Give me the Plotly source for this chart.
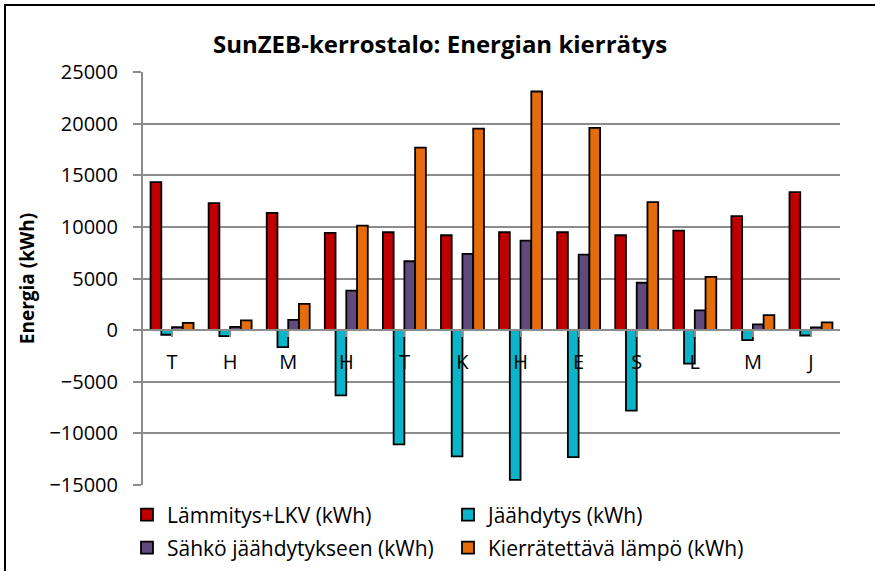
import plotly.graph_objects as go

months = ["T", "H", "M", "H", "T", "K", "H", "E", "S", "L", "M", "J"]
lammitys = [14340, 12300, 11360, 9420, 9480, 9190, 9480, 9480, 9190, 9640, 11040, 13370]
jaahdytys = [-450, -580, -1650, -6310, -11070, -12230, -14500, -12300, -7800, -3240, -970, -520]
sahko = [290, 320, 1000, 3820, 6670, 7380, 8670, 7310, 4590, 1910, 550, 260]
kierratys = [710, 940, 2550, 10130, 17670, 19510, 23110, 19580, 12400, 5150, 1460, 750]

series = [
    ("Lämmitys+LKV (kWh)", lammitys, "#C00000", "legend"),
    ("Jäähdytys (kWh)", jaahdytys, "#0BB4C8", "legend"),
    ("Sähkö jäähdytykseen (kWh)", sahko, "#604A7B", "legend2"),
    ("Kierrätettävä lämpö (kWh)", kierratys, "#E46C0A", "legend2"),
]

x_idx = list(range(len(months)))
FONT = "Open Sans"

fig = go.Figure()
for name, vals, col, lg in series:
    fig.add_trace(go.Bar(
        x=x_idx, y=vals, name=name, legend=lg,
        marker=dict(color=col, line=dict(color="black", width=1.8)),
    ))

L, R, T, B = 143, 35, 72, 86
W, H = 875, 571
pw = W - L - R
ph = H - T - B
zero_pos = (0 - (-15000)) / 40000.0

leg_common = dict(orientation="h", xref="container", yref="container",
                  x=127 / W, xanchor="left", yanchor="middle",
                  entrywidth=276, entrywidthmode="pixels",
                  font=dict(family=FONT, size=21, color="black"),
                  traceorder="normal", bgcolor="rgba(0,0,0,0)")

fig.update_layout(
    width=W, height=H,
    margin=dict(l=L, r=R, t=T, b=B, autoexpand=False),
    paper_bgcolor="white", plot_bgcolor="white",
    barmode="group", bargap=0.26, bargroupgap=0,
    font=dict(family=FONT, size=20, color="black"),
    title=dict(text="<b>SunZEB-kerrostalo: Energian kierrätys</b>",
               x=(440 - L) / pw, xref="paper", xanchor="center",
               y=1 - 45 / H, yanchor="middle",
               font=dict(family=FONT, size=24, color="black")),
    showlegend=True,
    legend=dict(leg_common, y=1 - 515 / H),
    legend2=dict(leg_common, y=1 - 548 / H),
    xaxis=dict(
        tickmode="array", tickvals=x_idx, ticktext=months,
        range=[-0.5, 11.5], automargin=False,
        anchor="free", position=zero_pos,
        showline=True, linecolor="#8C8C8C", linewidth=2,
        ticks="outside", ticklen=6, tickwidth=1.5, tickcolor="#8C8C8C",
        tickson="boundaries", showgrid=False, zeroline=False,
        ticklabelstandoff=8,
        tickfont=dict(family=FONT, size=20, color="black"),
    ),
    yaxis=dict(
        range=[-15000, 25000], dtick=5000, tick0=0, tickformat="d",
        automargin=False,
        showgrid=True, gridcolor="#8C8C8C", gridwidth=2,
        showline=True, linecolor="#8C8C8C", linewidth=2,
        ticks="outside", ticklen=8, tickwidth=2, tickcolor="#8C8C8C",
        zeroline=False,
        tickfont=dict(family=FONT, size=20, color="black"),
        ticklabelstandoff=11,
        title=dict(text="<b>Energia (kWh)</b>", standoff=10,
                   font=dict(family=FONT, size=19, color="black")),
    ),
    shapes=[dict(type="rect", xref="paper", yref="paper",
                 x0=(5 - L) / pw, x1=(885 - L) / pw,
                 y0=-(585 - (H - B)) / ph, y1=((H - B) - 5) / ph,
                 line=dict(color="black", width=2), fillcolor="rgba(0,0,0,0)",
                 layer="above")],
)

fig.write_html("out.html", config={"displayModeBar": False},
               post_script="document.body.style.margin='0';")
